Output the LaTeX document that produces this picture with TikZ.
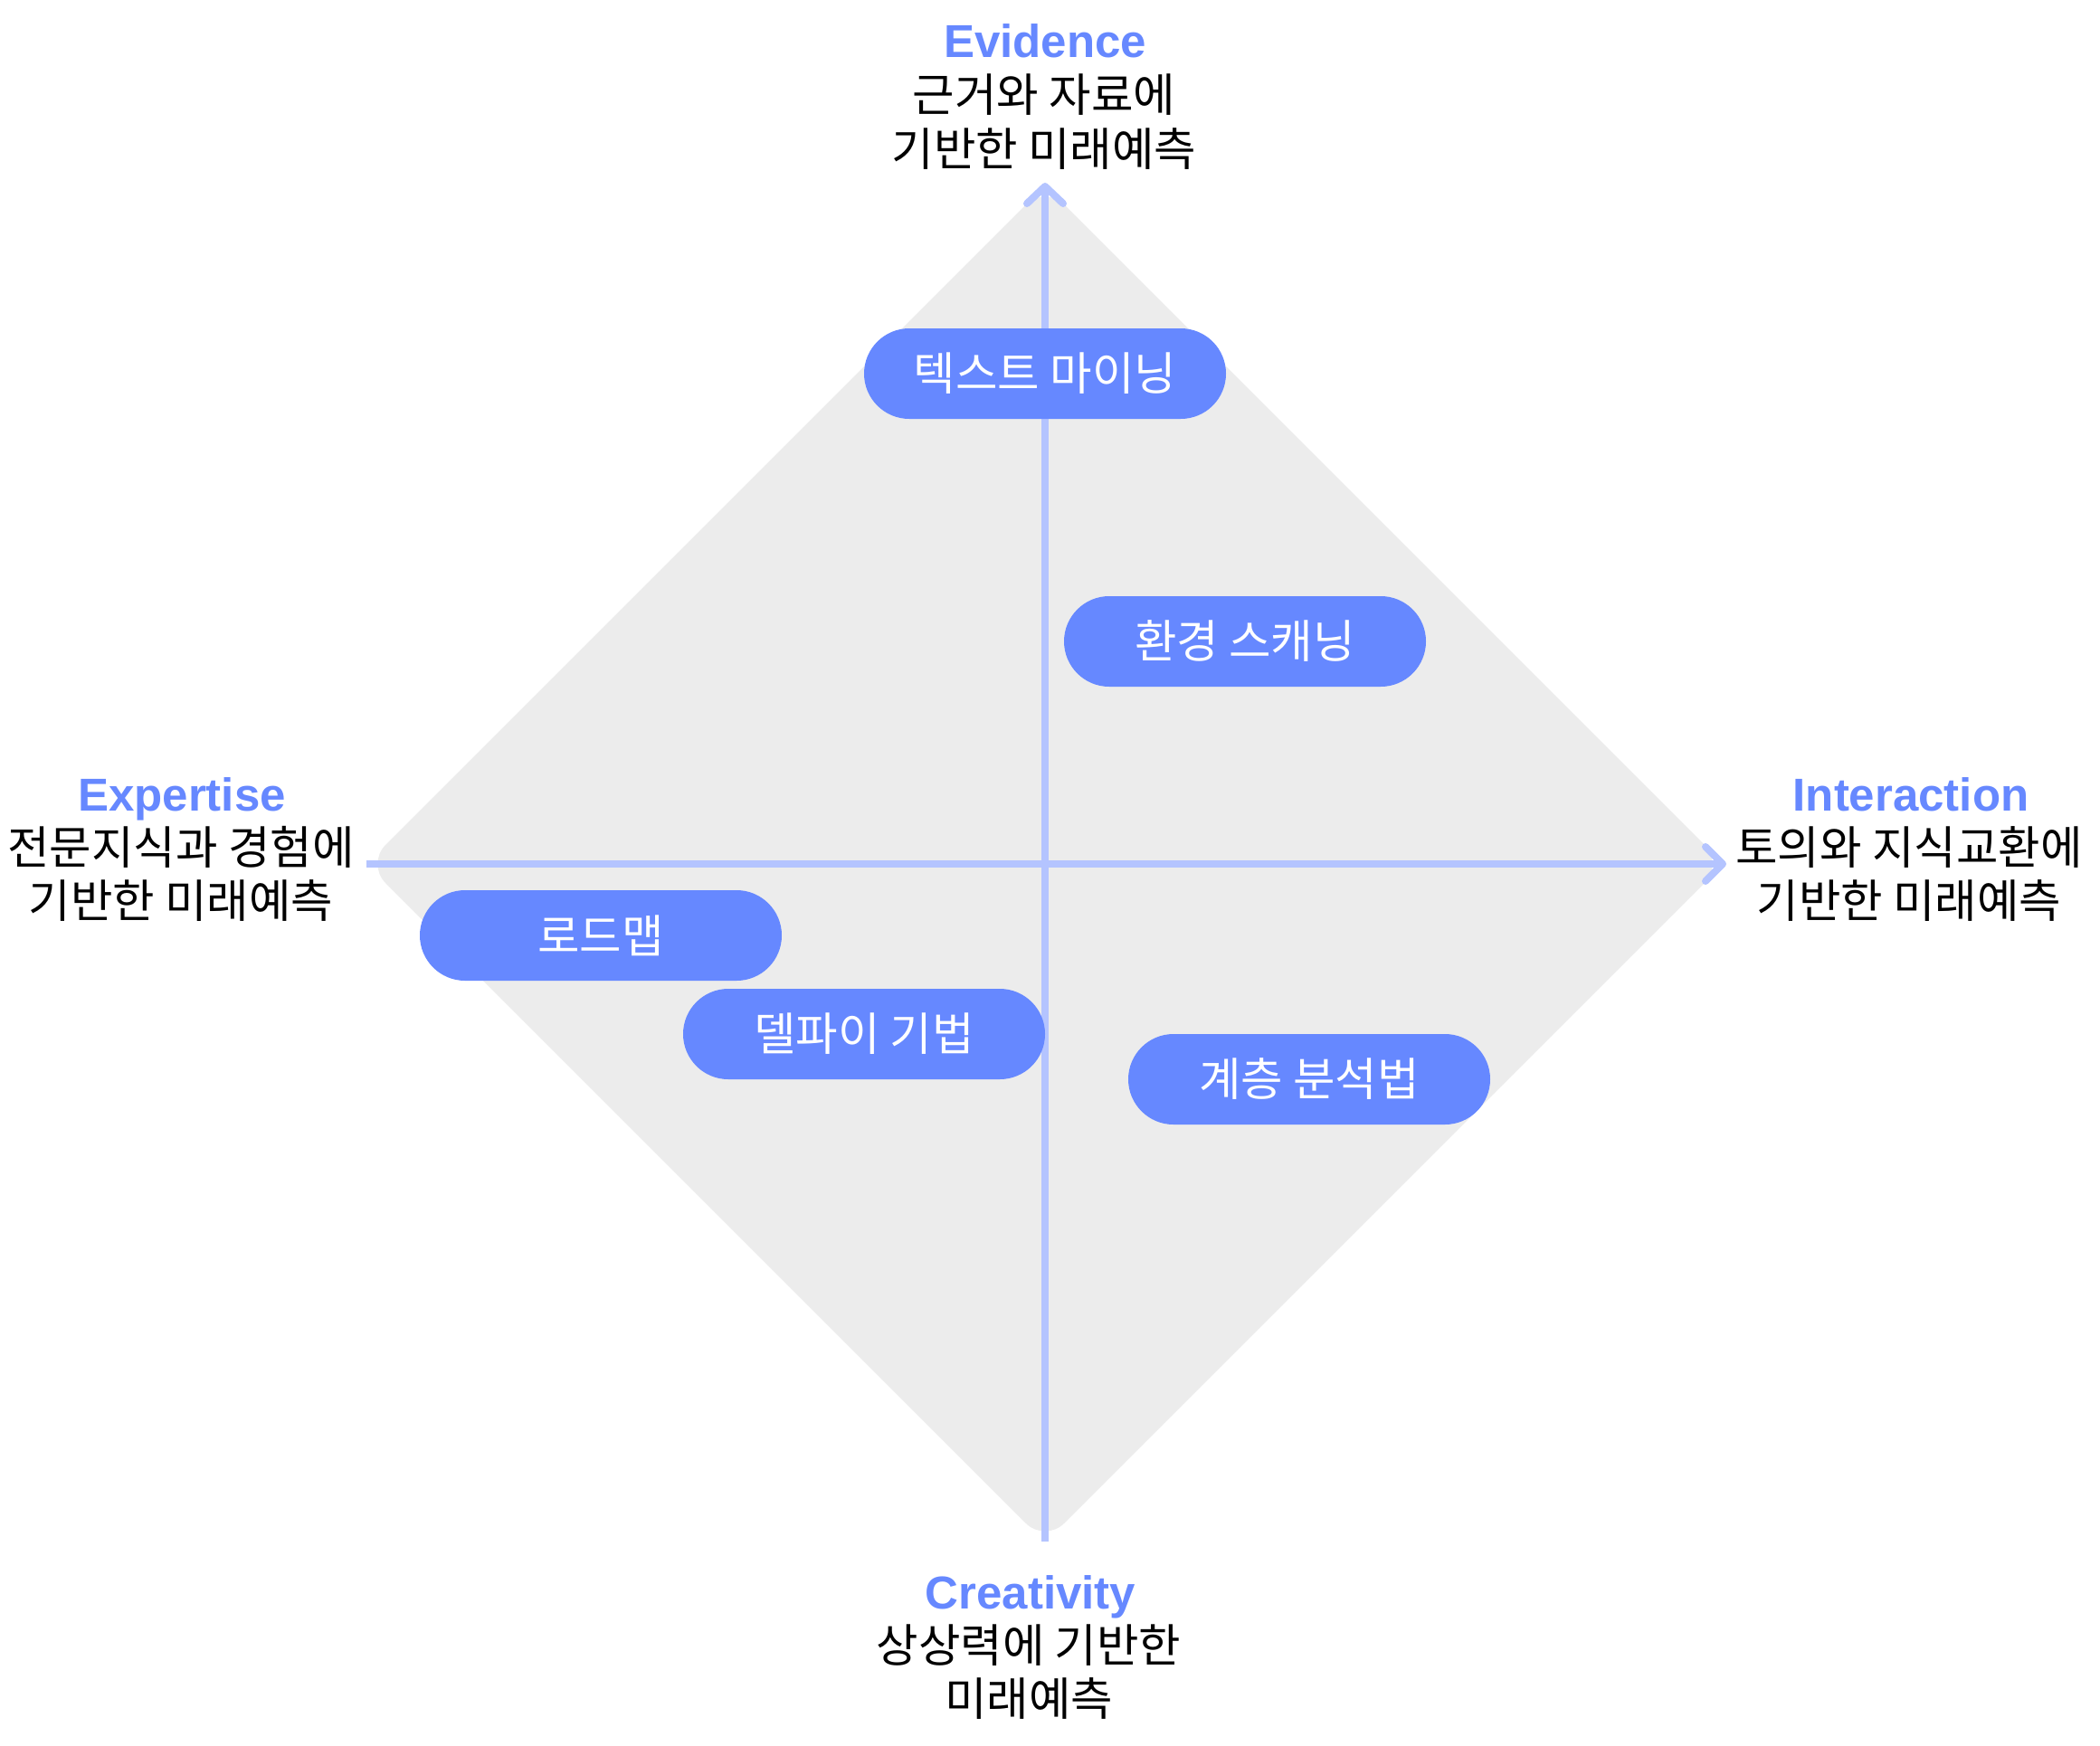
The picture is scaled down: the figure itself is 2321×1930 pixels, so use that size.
\documentclass[tikz,border=0pt]{standalone}
\usepackage{fontspec}
\newfontfamily\krfont{Noto Sans CJK KR}
\newfontfamily\hdfont{Liberation Sans}
\definecolor{pillblue}{HTML}{6688FF}
\definecolor{headblue}{HTML}{6688FF}
\definecolor{axisblue}{HTML}{B4C4FF}
\definecolor{diamondgray}{HTML}{ECECEC}
\tikzset{
  pill/.style={fill=pillblue, text=white, rounded corners=50pt, minimum width=400pt, minimum height=100pt, inner sep=0pt, font=\krfont\fontsize{50.5}{50.5}\selectfont},
  headtxt/.style={text=headblue, inner sep=0pt, anchor=base, font=\hdfont\bfseries\fontsize{51}{51}\selectfont},
  kortxt/.style={text=black, inner sep=0pt, anchor=base, font=\krfont\fontsize{50.5}{50.5}\selectfont},
  axisline/.style={draw=axisblue, line width=8pt},
  axishead/.style={draw=axisblue, line width=8pt, line cap=round, line join=round},
}
\begin{document}
\begin{tikzpicture}[x=1pt,y=-1pt]
\useasboundingbox (0,0) rectangle (2321,1930);
% diamond
\fill[diamondgray, rounded corners=30pt] (780,580) -- (1155,205) -- (1905,955) -- (1155,1705) -- (405,955) -- cycle;
% axes
\coordinate (hL) at (405,955);
\coordinate (hR) at (1904,955);
\coordinate (vB) at (1155,1704);
\coordinate (vT) at (1155,206);
\draw[axisline] (hL) -- (hR);
\draw[axisline] (vB) -- (vT);
\draw[axishead] (hR) ++(-19,-19) -- (hR) -- ++(-19,19);
\draw[axishead] (vT) ++(-20,19) -- (vT) -- ++(20,19);
% pills
\node[pill] (p1) at (1155,413) {텍스트 마이닝};
\node[pill] (p2) at (1376,709) {환경 스캐닝};
\node[pill] (p3) at (664,1034) {로드맵};
\node[pill] (p4) at (955,1143) {델파이 기법};
\node[pill] (p5) at (1447,1193) {계층 분석법};
% labels
\node[headtxt] (evH) at (1155,63) {Evidence};
\node[kortxt] (ev1) at (1154,123) {근거와 자료에};
\node[kortxt] (ev2) at (1154,183) {기반한 미래예측};
\node[headtxt] (exH) at (201,896) {Expertise};
\node[kortxt] (ex1) at (200,955) {전문지식과 경험에};
\node[kortxt] (ex2) at (200,1014) {기반한 미래예측};
\node[headtxt] (inH) at (2112,896) {Interaction};
\node[kortxt] (in1) at (2110,955) {토의와 지식교환에};
\node[kortxt] (in2) at (2110,1014) {기반한 미래예측};
\node[headtxt] (crH) at (1139,1778) {Creativity};
\node[kortxt] (cr1) at (1137,1837) {상상력에 기반한};
\node[kortxt] (cr2) at (1137,1896) {미래예측};
\end{tikzpicture}
\end{document}
